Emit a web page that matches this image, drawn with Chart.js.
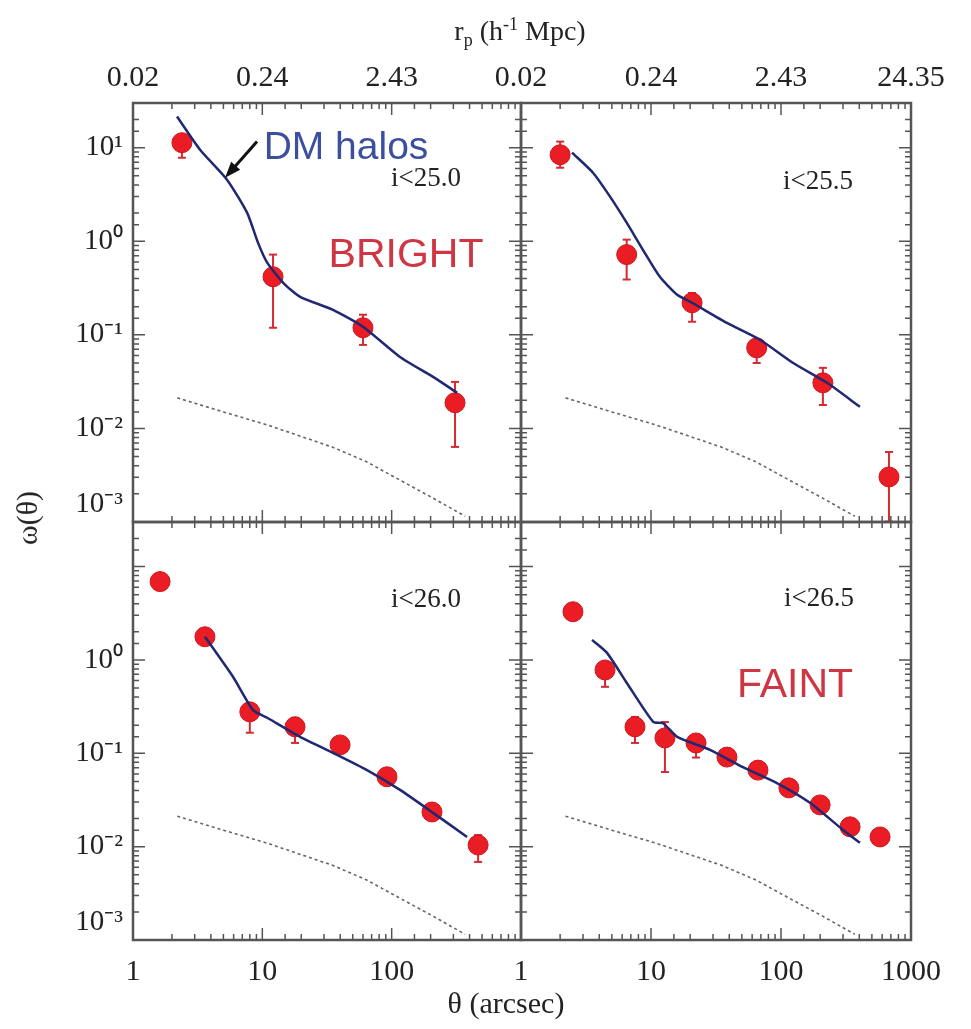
<!DOCTYPE html>
<html>
<head>
<meta charset="utf-8">
<title>w(theta) by magnitude cut</title>
<script src="https://cdn.jsdelivr.net/npm/chart.js@4.4.1/dist/chart.umd.min.js"></script>
<style>
  html, body { margin: 0; padding: 0; background: #fff; }
  #fig { position: relative; width: 971px; height: 1029px; overflow: hidden;
         font-family: "Liberation Serif", "DejaVu Serif", serif; color: #222; }
  #fig canvas { position: absolute; }
  .txt { position: absolute; white-space: nowrap; line-height: 1; transform: translate(-50%, -50%); }
  .sans { font-family: "Liberation Sans", Arial, sans-serif; }
  .cut { font-size: 27px; }
  .tag { font-size: 41px; color: #cf3644; }
</style>
</head>
<body>
<div id="fig">
  <canvas id="panelTL" width="536" height="572" style="left:0;top:0"></canvas>
  <canvas id="panelTR" width="490" height="572" style="left:481px;top:0"></canvas>
  <canvas id="panelBL" width="536" height="549" style="left:0;top:480px"></canvas>
  <canvas id="panelBR" width="490" height="549" style="left:481px;top:480px"></canvas>

  <div class="txt" style="left:520px;top:32px;font-size:28px">r<sub style="font-size:18px">p</sub> (h<sup style="font-size:18px">-1</sup> Mpc)</div>
  <div class="txt" style="left:506px;top:1003px;font-size:30px">θ (arcsec)</div>
  <div class="txt" style="left:27px;top:518px;font-size:30px;transform:translate(-50%,-50%) rotate(-90deg)">ω(θ)</div>

  <div class="txt sans" style="left:346px;top:145px;font-size:39px;color:#3c4f9f">DM halos</div>
  <div class="txt sans tag" style="left:406px;top:253px">BRIGHT</div>
  <div class="txt sans tag" style="left:795px;top:683px">FAINT</div>

  <div class="txt cut" style="left:426px;top:177px">i&lt;25.0</div>
  <div class="txt cut" style="left:818px;top:180px">i&lt;25.5</div>
  <div class="txt cut" style="left:426px;top:598px">i&lt;26.0</div>
  <div class="txt cut" style="left:819px;top:597px">i&lt;26.5</div>
</div>

<script>
// tick labels (one per decade)
const thetaTickLabels = ["1", "10", "100", "1000"];
const rpTickLabels = ["0.02", "0.24", "2.43", "24.35"];
const omegaTickLabels = ["10\u207B\u00B3", "10\u207B\u00B2", "10\u207B\u00B9", "10\u2070", "10\u00B9"]; // 1e-3 .. 1e1

// dark matter only prediction (dotted), same in every panel
const dmTheta = [2.2, 5, 10.9, 20, 35, 64, 116, 209, 370];
const dmOmega = [0.0212, 0.015, 0.0109, 0.0082, 0.0063, 0.0044, 0.0028, 0.0018, 0.00115];

// i < 25.0
const theta250 = [2.39, 12.1, 60, 309];
const omega250 = [11.3, 0.417, 0.119, 0.0188];
const errHi250 = [13.8, 0.72, 0.164, 0.0314];
const errLo250 = [7.8, 0.119, 0.078, 0.00634];
const modelTheta250 = [2.19, 3.3, 5.33, 7.62, 9.27, 10.9, 14.5, 19.6, 35.2, 60, 116, 209, 321];
const modelOmega250 = [21.5, 9.5, 4.55, 2.02, 0.96, 0.59, 0.36, 0.255, 0.185, 0.122, 0.058, 0.0355, 0.024];

// i < 25.5
const theta255 = [2.0, 6.5, 20.7, 65, 210, 677];
const omega255 = [8.4, 0.72, 0.22, 0.0726, 0.0307, 0.00303];
const errHi255 = [11.6, 1.04, 0.28, 0.0885, 0.0444, 0.0056];
const errLo255 = [6.1, 0.39, 0.138, 0.05, 0.0178, 0.00101];
const modelTheta255 = [2.47, 3.58, 4.84, 6.5, 8.67, 11.7, 15.9, 20.7, 38.4, 68.9, 124, 226, 405];
const modelOmega255 = [8.85, 5.4, 3.0, 1.58, 0.81, 0.417, 0.268, 0.22, 0.134, 0.0885, 0.05, 0.0307, 0.017];

// i < 26.0
const theta260 = [1.62, 3.6, 8.0, 17.9, 39.9, 92, 205, 466];
const omega260 = [6.9, 1.77, 0.278, 0.192, 0.123, 0.056, 0.0235, 0.0104];
const errHi260 = [null, null, 0.33, 0.24, null, null, null, 0.0133];
const errLo260 = [null, null, 0.166, 0.129, null, null, null, 0.00686];
const modelTheta260 = [3.6, 5.93, 8.48, 10.9, 19.6, 35.2, 64.5, 116, 209, 383];
const modelOmega260 = [1.77, 0.66, 0.29, 0.24, 0.15, 0.101, 0.066, 0.0405, 0.023, 0.0127];

// i < 26.5
const theta265 = [2.51, 4.43, 7.53, 12.8, 22.2, 38.4, 66.5, 115, 200, 340, 578];
const omega265 = [3.28, 0.78, 0.192, 0.146, 0.129, 0.091, 0.066, 0.0426, 0.028, 0.0163, 0.0127];
const errHi265 = [null, 0.95, 0.245, 0.216, 0.155, null, null, null, null, null, null];
const errLo265 = [null, 0.515, 0.129, 0.063, 0.09, null, null, null, null, null, null];
const modelTheta265 = [3.52, 4.59, 6.5, 10.4, 12.4, 15.9, 28.4, 51, 93, 167, 300, 405];
const modelOmega265 = [1.64, 1.19, 0.57, 0.217, 0.21, 0.15, 0.109, 0.071, 0.048, 0.0295, 0.0151, 0.011];

// "DM halos" arrow, in data coordinates of the i<25.0 panel
const arrowTail = { x: 9.1, y: 11.6 };
const arrowHead = { x: 5.15, y: 4.78 };

const decade = (v) => {
  const e = Math.log10(v);
  return Math.abs(e - Math.round(e)) < 1e-6 ? Math.round(e) : null;
};

const pairs = (xs, ys) => xs.map((x, i) => ({ x: x, y: ys[i] }));

// inside tick marks on all four sides plus the frame
const frameTicks = {
  id: "frameTicks",
  afterDatasetsDraw(chart) {
    const { ctx, chartArea: a, scales } = chart;
    ctx.save();
    ctx.strokeStyle = "#555";
    ctx.lineWidth = 1.5;
    ctx.beginPath();
    scales.x.ticks.forEach((t) => {
      const px = scales.x.getPixelForValue(t.value);
      const len = decade(t.value) !== null ? 12 : 6;
      ctx.moveTo(px, a.bottom);
      ctx.lineTo(px, a.bottom - len);
      ctx.moveTo(px, a.top);
      ctx.lineTo(px, a.top + len);
    });
    scales.y.ticks.forEach((t) => {
      const py = scales.y.getPixelForValue(t.value);
      const len = decade(t.value) !== null ? 12 : 6;
      ctx.moveTo(a.left, py);
      ctx.lineTo(a.left + len, py);
      ctx.moveTo(a.right, py);
      ctx.lineTo(a.right - len, py);
    });
    ctx.stroke();
    ctx.lineWidth = 2.5;
    ctx.strokeRect(a.left, a.top, a.right - a.left, a.bottom - a.top);
    ctx.restore();
  },
};

const haloArrow = {
  id: "haloArrow",
  afterDatasetsDraw(chart, args, opts) {
    if (!opts.show) return;
    const { ctx, scales } = chart;
    const x0 = scales.x.getPixelForValue(arrowTail.x);
    const y0 = scales.y.getPixelForValue(arrowTail.y);
    const x1 = scales.x.getPixelForValue(arrowHead.x);
    const y1 = scales.y.getPixelForValue(arrowHead.y);
    const ang = Math.atan2(y1 - y0, x1 - x0);
    ctx.save();
    ctx.strokeStyle = "#111";
    ctx.fillStyle = "#111";
    ctx.lineWidth = 3;
    ctx.beginPath();
    ctx.moveTo(x0, y0);
    ctx.lineTo(x1 - 10 * Math.cos(ang), y1 - 10 * Math.sin(ang));
    ctx.stroke();
    ctx.beginPath();
    ctx.moveTo(x1, y1);
    ctx.lineTo(x1 - 16 * Math.cos(ang) + 6 * Math.sin(ang), y1 - 16 * Math.sin(ang) - 6 * Math.cos(ang));
    ctx.lineTo(x1 - 16 * Math.cos(ang) - 6 * Math.sin(ang), y1 - 16 * Math.sin(ang) + 6 * Math.cos(ang));
    ctx.closePath();
    ctx.fill();
    ctx.restore();
  },
};

function makePanel(id, p) {
  const errData = [];
  p.theta.forEach((t, i) => {
    if (p.errHi[i] == null) return;
    errData.push({ x: t, y: p.errLo[i] }, { x: t, y: p.errHi[i] }, { x: t, y: null });
  });

  const tickFont = { family: "'Liberation Serif', serif", size: 30 };
  const scales = {
    x: {
      type: "logarithmic",
      position: "bottom",
      min: 1,
      max: 1000,
      grid: { display: false, drawTicks: false },
      border: { display: false },
      ticks: {
        display: p.bottomLabels,
        autoSkip: false,
        maxRotation: 0,
        minRotation: 0,
        padding: 14,
        color: "#222",
        font: tickFont,
        callback: (v) => {
          const e = decade(v);
          if (e === null || (e === 3 && !p.lastLabel)) return "";
          return thetaTickLabels[e];
        },
      },
      afterFit: (s) => { s.height = p.bottomLabels ? 89 : 0; },
    },
    y: {
      type: "logarithmic",
      min: 0.001,
      max: 30,
      grid: { display: false, drawTicks: false },
      border: { display: false },
      ticks: {
        display: p.leftLabels,
        autoSkip: false,
        padding: 10,
        color: "#222",
        font: { family: "'Liberation Serif', serif", size: 29 },
        callback: (v) => {
          const e = decade(v);
          if (e === null || (e === 1 && !p.topDecade)) return "";
          if (e === -3) return [omegaTickLabels[0], ""]; // lift bottom label inside the panel
          return omegaTickLabels[e + 3];
        },
      },
      afterFit: (s) => { s.width = p.leftLabels ? 133 : 0; },
    },
  };
  if (p.topAxis) {
    scales.x2 = {
      type: "logarithmic",
      axis: "x",
      position: "top",
      min: 1,
      max: 1000,
      grid: { display: false, drawTicks: false },
      border: { display: false },
      ticks: {
        autoSkip: false,
        maxRotation: 0,
        minRotation: 0,
        padding: 7,
        color: "#222",
        font: tickFont,
        callback: (v) => {
          const e = decade(v);
          if (e === null || (e === 3 && !p.lastLabel)) return "";
          return rpTickLabels[e];
        },
      },
      afterFit: (s) => { s.height = 103; },
    };
  }

  return new Chart(document.getElementById(id), {
    type: "scatter",
    data: {
      datasets: [
        {
          label: "DM halos",
          data: pairs(p.modelTheta, p.modelOmega),
          showLine: true,
          borderColor: "#1f2870",
          borderWidth: 2.5,
          pointRadius: 0,
          tension: 0.2,
          order: 0,
        },
        {
          label: "w(theta)",
          data: pairs(p.theta, p.omega),
          pointRadius: 10,
          pointBackgroundColor: "#ea1c24",
          pointBorderColor: "#d0141c",
          pointBorderWidth: 1,
          order: 1,
        },
        {
          label: "errors",
          data: errData,
          showLine: true,
          spanGaps: false,
          borderColor: "#d42a32",
          borderWidth: 2,
          pointStyle: "line",
          pointRadius: 4,
          pointBorderWidth: 2,
          pointBorderColor: "#d42a32",
          order: 2,
        },
        {
          label: "dark matter",
          data: pairs(dmTheta, dmOmega),
          showLine: true,
          borderColor: "#666",
          borderWidth: 1.6,
          borderDash: [3, 3],
          pointRadius: 0,
          order: 3,
        },
      ],
    },
    options: {
      responsive: false,
      devicePixelRatio: 1,
      animation: false,
      events: [],
      layout: { padding: p.padding },
      scales: scales,
      plugins: {
        legend: { display: false },
        tooltip: { enabled: false },
        haloArrow: { show: !!p.arrow },
      },
    },
    plugins: [frameTicks, haloArrow],
  });
}

makePanel("panelTL", {
  theta: theta250, omega: omega250, errHi: errHi250, errLo: errLo250,
  modelTheta: modelTheta250, modelOmega: modelOmega250,
  leftLabels: true, bottomLabels: false, topAxis: true, lastLabel: false, topDecade: true, arrow: true,
  padding: { left: 0, top: 0, right: 15, bottom: 50 },
});
makePanel("panelTR", {
  theta: theta255, omega: omega255, errHi: errHi255, errLo: errLo255,
  modelTheta: modelTheta255, modelOmega: modelOmega255,
  leftLabels: false, bottomLabels: false, topAxis: true, lastLabel: true, topDecade: false,
  padding: { left: 40, top: 0, right: 60, bottom: 50 },
});
makePanel("panelBL", {
  theta: theta260, omega: omega260, errHi: errHi260, errLo: errLo260,
  modelTheta: modelTheta260, modelOmega: modelOmega260,
  leftLabels: true, bottomLabels: true, topAxis: false, lastLabel: false, topDecade: false,
  padding: { left: 0, top: 42, right: 15, bottom: 0 },
});
makePanel("panelBR", {
  theta: theta265, omega: omega265, errHi: errHi265, errLo: errLo265,
  modelTheta: modelTheta265, modelOmega: modelOmega265,
  leftLabels: false, bottomLabels: true, topAxis: false, lastLabel: true, topDecade: false,
  padding: { left: 40, top: 42, right: 60, bottom: 0 },
});
</script>
</body>
</html>
